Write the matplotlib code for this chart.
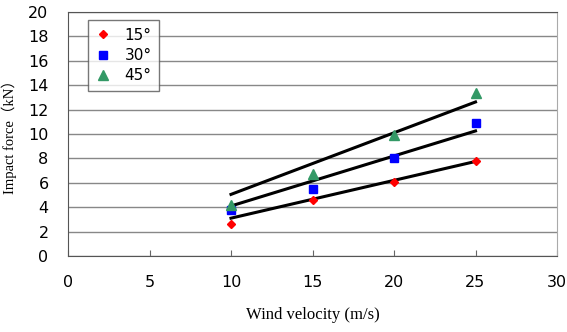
import matplotlib.pyplot as plt
import numpy as np

# measured impact force (kN) against wind velocity (m/s)
velocity = [10, 15, 20, 25]
force_15 = [2.6, 4.6, 6.1, 7.8]
force_30 = [3.8, 5.5, 8.0, 10.9]
force_45 = [4.2, 6.7, 9.9, 13.4]

# estimated lines (force proportional to velocity)
line_v = [10, 25]
slope_15 = 0.31
slope_30 = 0.41
slope_45 = 0.505

fig = plt.figure(figsize=(5.67, 3.32), dpi=100)
ax = fig.add_axes([68/567, 1 - 256/332, (557-68)/567, (256-12)/332])

lv = np.array(line_v)
for k in (slope_15, slope_30, slope_45):
    ax.plot(lv, k * lv, color='black', lw=2.2, zorder=2)

ax.plot(velocity, force_15, 'D', color='#ff0000', ms=4.5, ls='none', label='15°', zorder=3)
ax.plot(velocity, force_30, 's', color='#0000ff', ms=5.5, ls='none', label='30°', zorder=3)
ax.plot(velocity, force_45, '^', color='#339966', ms=6.5, ls='none', label='45°', zorder=3)

ax.set_xlim(0, 30)
ax.set_ylim(0, 20)
ax.set_xticks(range(0, 31, 5))
ax.set_yticks(range(0, 21, 2))
ax.yaxis.grid(True, color='#888888', lw=1)
ax.set_axisbelow(True)
ax.tick_params(axis='x', direction='in', length=4, pad=14, labelsize=11.5, color='#666666')
ax.tick_params(axis='y', length=0, pad=14, labelsize=11.5)
for lab in ax.get_xticklabels() + ax.get_yticklabels():
    lab.set_family('DejaVu Sans')
    lab.set_fontweight('medium')
for s in ('top', 'left', 'bottom'):
    ax.spines[s].set_color('#555555')
ax.spines['right'].set_color('#aaaaaa')

ax.set_xlabel('Wind velocity (m/s)', family=['Liberation Serif', 'Noto Sans CJK JP'],
              fontsize=12, labelpad=12)
ax.set_ylabel('Impact force（kN）', family=['Liberation Serif', 'Noto Sans CJK JP'],
              fontsize=10.5, labelpad=8)

leg = ax.legend(loc='upper left', bbox_to_anchor=(0.041, 0.967), borderaxespad=0,
                frameon=True, fancybox=False, edgecolor='#555555', fontsize=11,
                handlelength=1.0, handletextpad=0.9, borderpad=0.5, labelspacing=0.35)
leg.get_frame().set_linewidth(1)

fig.savefig('out.png', dpi=100)
